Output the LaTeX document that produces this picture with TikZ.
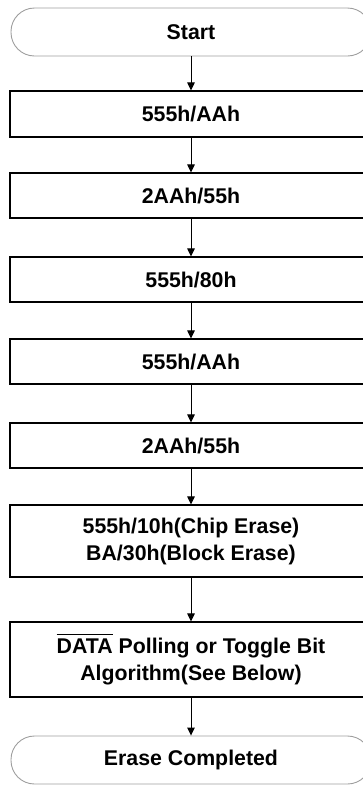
\documentclass[tikz,border=0pt]{standalone}
\usepackage{fontspec}
\setmainfont{Liberation Sans}
\usetikzlibrary{arrows.meta}
\newcommand\myover[1]{\setbox0\hbox{#1}\rlap{\raisebox{\dimexpr\ht0+4pt\relax}{\rule{\wd0}{1.6pt}}}\box0\relax}
\tikzset{
  txt/.style={font=\fontsize{21.3}{27}\selectfont\bfseries, align=center, inner sep=0pt},
  pill/.style={txt, draw=black!38, line width=0.9pt, rounded corners=23.5pt, minimum width=360pt, minimum height=48pt},
  stepbox/.style={txt, draw=black, line width=1.1pt, minimum width=362pt},
  arr/.style={line width=1pt, -{Triangle[length=8pt,width=7.5pt]}}
}
\begin{document}
\begin{tikzpicture}[x=1pt,y=-1pt]
\useasboundingbox (0,0) rectangle (362,785);
\node[pill] (start) at (191,32) {Start};
\node[stepbox, minimum height=46pt] (b1) at (191,114) {555h/AAh};
\node[stepbox, minimum height=45pt] (b2) at (191,195.5) {2AAh/55h};
\node[stepbox, minimum height=45pt] (b3) at (191,279.5) {555h/80h};
\node[stepbox, minimum height=45pt] (b4) at (191,361.5) {555h/AAh};
\node[stepbox, minimum height=45pt] (b5) at (191,445.5) {2AAh/55h};
\node[stepbox, minimum height=72pt] (b6) at (191,541) {555h/10h(Chip Erase)\\BA/30h(Block Erase)};
\node[stepbox, minimum height=75pt] (b7) at (191,659.5) {\myover{DATA} Polling or Toggle Bit\\Algorithm(See Below)};
\node[pill] (end) at (191,760) {Erase Completed};
\draw[arr] (start) -- (b1);
\draw[arr] (b1) -- (b2);
\draw[arr] (b2) -- (b3);
\draw[arr] (b3) -- (b4);
\draw[arr] (b4) -- (b5);
\draw[arr] (b5) -- (b6);
\draw[arr] (b6) -- (b7);
\draw[arr] (b7) -- (end);
\end{tikzpicture}
\end{document}
